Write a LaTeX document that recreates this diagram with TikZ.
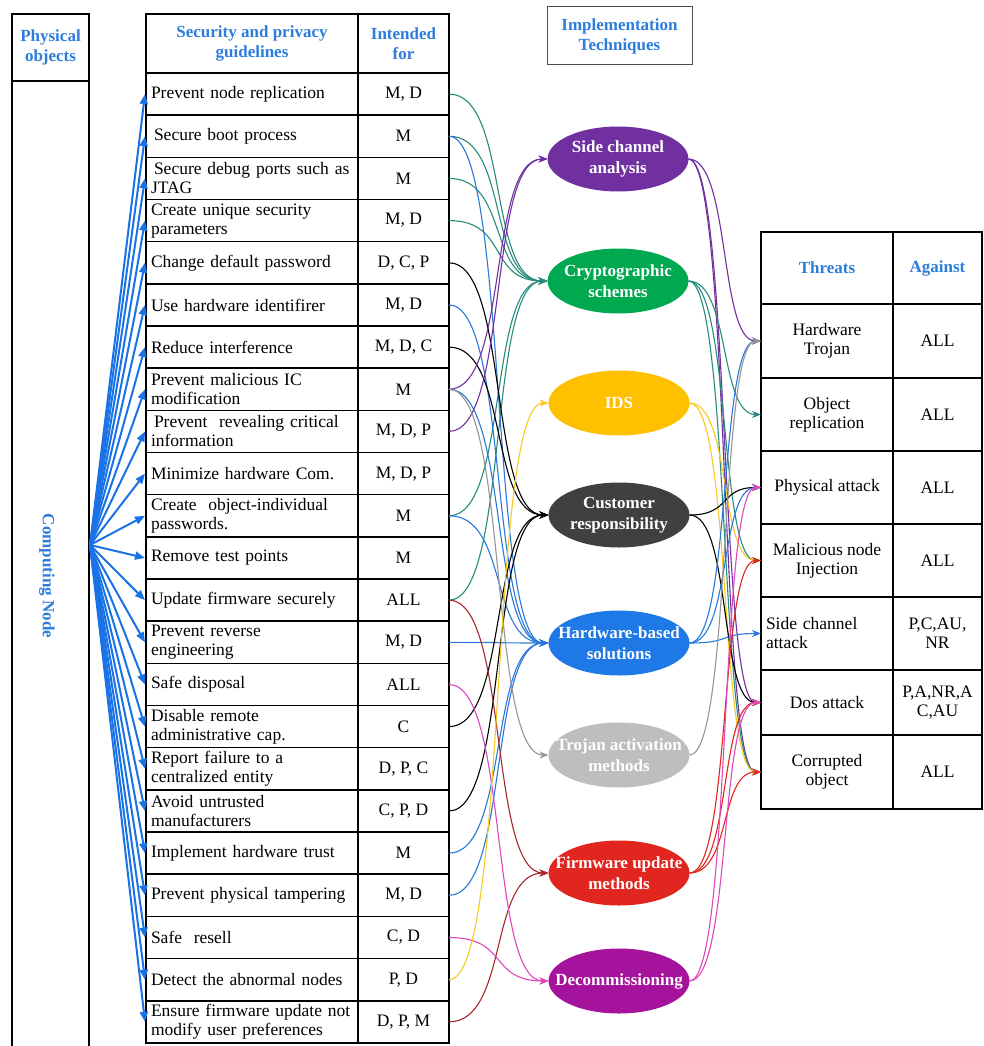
\documentclass[tikz,border=0pt]{standalone}
\usepackage{fontspec}
\setmainfont{Liberation Serif}
\usetikzlibrary{arrows.meta,shapes.geometric}
\definecolor{hdrblue}{RGB}{45,125,220}
\definecolor{fanblue}{RGB}{25,115,230}
\definecolor{cpurple}{RGB}{112,48,160}
\definecolor{cgreen}{RGB}{0,168,80}
\definecolor{cteal}{RGB}{40,140,125}
\definecolor{cyellow}{RGB}{255,192,0}
\definecolor{lyellow}{RGB}{250,200,30}
\definecolor{cdark}{RGB}{64,64,64}
\definecolor{chw}{RGB}{30,120,230}
\definecolor{lblue}{RGB}{40,120,220}
\definecolor{cgray}{RGB}{190,190,190}
\definecolor{lgray}{RGB}{150,150,150}
\definecolor{cred}{RGB}{224,38,30}
\definecolor{ldred}{RGB}{165,40,45}
\definecolor{cmag}{RGB}{165,18,155}
\definecolor{lpink}{RGB}{222,70,185}
\begin{document}
\begin{tikzpicture}[x=1pt,y=-1pt,font=\fontsize{17.5}{19}\selectfont,
  cell/.style={draw=black,line width=1.5pt,inner xsep=5pt,inner ysep=1pt,outer sep=0pt},
  gcell/.style={cell,minimum width=212pt,minimum height=42.17pt,text width=202pt,align=left},
  fcell/.style={cell,minimum width=91pt,minimum height=42.17pt,align=center},
  hdr/.style={font=\fontsize{17}{20}\selectfont\bfseries,text=hdrblue},
  tcell/.style={cell,minimum width=132pt,align=center},
  acell/.style={cell,minimum width=89pt,align=center},
  tech/.style={ellipse,minimum width=141pt,minimum height=65pt,inner xsep=-40pt,inner ysep=-14pt,outer sep=0pt,
    font=\fontsize{17}{21}\selectfont\bfseries,text=white,align=center},
  fan/.style={fanblue,line width=2pt,-{Triangle[length=10pt,width=8pt]}},
  lnk/.style={line width=1.1pt,-{Stealth[length=9pt,width=7pt]},out=0,in=180,distance=60pt},
  rlnk/.style={line width=1.1pt,-{Stealth[length=9pt,width=7pt]},out=0,in=180,distance=42pt},
]
\useasboundingbox (0,0) rectangle (983,1046);
\fill[white] (0,0) rectangle (983,1046);

% physical objects column
\node[cell,minimum width=77pt,minimum height=67pt,hdr,align=center] (po) at (50.5,47.5) {Physical\\objects};
\draw[line width=1.5pt] (po.south west) -- (12,1060) (po.south east) -- (89,1060);
\node[hdr,rotate=-90] (cnode) at (47,576) {Computing Node};
\coordinate (cn) at (90,545);

% guideline table
\node[cell,minimum width=212pt,minimum height=59pt,hdr,align=center] (gh) at (252,43.5) {Security and privacy\\guidelines};
\node[cell,minimum width=91pt,minimum height=59pt,hdr,align=center] (fh) at (403.5,43.5) {Intended\\for};
\foreach \i/\t/\w in {
 1/{Prevent node replication}/{M, D},
 2/{\hspace{3pt}Secure boot process}/{M},
 3/{\hspace{3pt}Secure debug ports such as\\JTAG}/{M},
 4/{Create unique security\\parameters}/{M, D},
 5/{Change default password}/{D, C, P},
 6/{Use hardware identifirer}/{M, D},
 7/{Reduce interference}/{M, D, C},
 8/{Prevent malicious IC\\modification}/{M},
 9/{\hspace{3pt}Prevent\ \ revealing critical\\information}/{M, D, P},
 10/{Minimize hardware Com.}/{M, D, P},
 11/{Create\ \ object-individual\\passwords.}/{M},
 12/{Remove test points}/{M},
 13/{Update firmware securely}/{ALL},
 14/{Prevent reverse\\engineering}/{M, D},
 15/{Safe disposal}/{ALL},
 16/{Disable remote\\administrative cap.}/{C},
 17/{Report failure to a\\centralized entity}/{D, P, C},
 18/{Avoid untrusted\\manufacturers}/{C, P, D},
 19/{Implement hardware trust}/{M},
 20/{Prevent physical tampering}/{M, D},
 21/{Safe\ \ resell}/{C, D},
 22/{Detect the abnormal nodes}/{P, D},
 23/{Ensure firmware update not\\modify user preferences}/{D, P, M}}
{
  \node[gcell] (g\i) at (252,{73+42.17*(\i-0.5)}) {\t};
  \node[fcell] (f\i) at (403.5,{73+42.17*(\i-0.5)}) {\w};
}
\foreach \i in {1,...,23} \draw[fan] (cn) -- ([xshift=-1pt]g\i.west);

% implementation techniques
\node[draw=black!70,line width=1pt,minimum width=145pt,minimum height=58pt,hdr,align=center] (it) at (619.5,36) {Implementation\\Techniques};
\node[tech,fill=cpurple] (sca) at (618,159) {Side channel\\analysis};
\node[tech,fill=cgreen] (cry) at (618,281) {Cryptographic\\schemes};
\node[tech,fill=cyellow] (ids) at (619,403) {IDS};
\node[tech,fill=cdark] (cus) at (619,515) {Customer\\responsibility};
\node[tech,fill=chw] (hw) at (619,643) {Hardware-based\\solutions};
\node[tech,fill=cgray] (tro) at (619,755) {Trojan activation\\methods};
\node[tech,fill=cred] (fw) at (619,873) {Firmware update\\methods};
\node[tech,fill=cmag] (dec) at (619,981) {Decommissioning};

% threats table
\node[cell,minimum width=132pt,minimum height=72pt,hdr] (th) at (827,268) {Threats};
\node[cell,minimum width=89pt,minimum height=72pt,hdr] (ah) at (937.5,268) {Against};
\node[tcell,minimum height=74pt] (t1) at (827,341) {Hardware\\Trojan};
\node[acell,minimum height=74pt] (a1) at (937.5,341) {ALL};
\node[tcell,minimum height=73pt] (t2) at (827,414.5) {Object\\replication};
\node[acell,minimum height=73pt] (a2) at (937.5,414.5) {ALL};
\node[tcell,minimum height=73pt] (t3) at (827,487.5) {Physical attack};
\node[acell,minimum height=73pt] (a3) at (937.5,487.5) {ALL};
\node[tcell,minimum height=73pt] (t4) at (827,560.5) {Malicious node\\Injection};
\node[acell,minimum height=73pt] (a4) at (937.5,560.5) {ALL};
\node[tcell,minimum height=73pt,text width=122pt,align=left] (t5) at (827,633.5) {Side channel\\attack};
\node[acell,minimum height=73pt] (a5) at (937.5,633.5) {P,C,AU,\\NR};
\node[tcell,minimum height=65pt] (t6) at (827,702.5) {Dos attack};
\node[acell,minimum height=65pt] (a6) at (937.5,702.5) {P,A,NR,A\\C,AU};
\node[tcell,minimum height=74pt] (t7) at (827,772) {Corrupted\\object};
\node[acell,minimum height=74pt] (a7) at (937.5,772) {ALL};

% guideline -> technique
\foreach \i in {1,2,3,4,11,13} \draw[lnk,cteal] (f\i.east) to (cry.west);
\foreach \i in {2,6,8,11,14,19,20} \draw[lnk,lblue] (f\i.east) to (hw.west);
\foreach \i in {5,7,16,18} \draw[lnk,black] (f\i.east) to (cus.west);
\foreach \i in {8,9} \draw[lnk,cpurple] (f\i.east) to (sca.west);
\draw[lnk,lgray] (f8.east) to (tro.west);
\foreach \i in {13,23} \draw[lnk,ldred] (f\i.east) to (fw.west);
\foreach \i in {15,21} \draw[lnk,lpink] (f\i.east) to (dec.west);
\draw[lnk,lyellow] (f22.east) to (ids.west);

% technique -> threat
\foreach \t in {1,6,7} \draw[rlnk,cpurple] (sca.east) to (t\t.west);
\foreach \t in {2,4,7} \draw[rlnk,cteal] (cry.east) to (t\t.west);
\foreach \t in {4,7} \draw[rlnk,lyellow] (ids.east) to (t\t.west);
\foreach \t in {3,6} \draw[rlnk,black] (cus.east) to (t\t.west);
\foreach \t in {1,3,5} \draw[rlnk,lblue] (hw.east) to (t\t.west);
\draw[rlnk,lgray] (tro.east) to (t1.west);
\foreach \t in {4,6,7} \draw[rlnk,cred] (fw.east) to (t\t.west);
\foreach \t in {3,6} \draw[rlnk,lpink] (dec.east) to (t\t.west);
\end{tikzpicture}
\end{document}
